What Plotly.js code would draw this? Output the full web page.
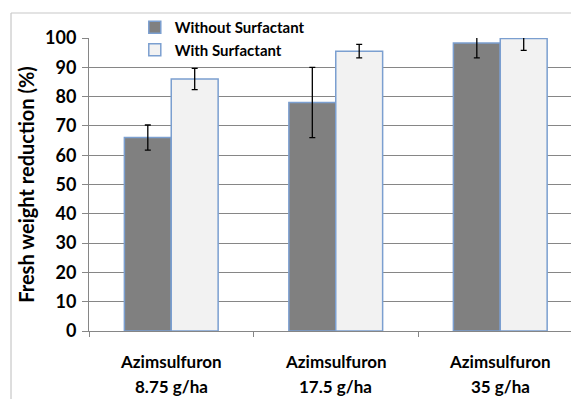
<!DOCTYPE html>
<html>
<head>
<meta charset="utf-8">
<script src="https://cdn.plot.ly/plotly-3.0.1.min.js"></script>
<style>html,body{margin:0;padding:0;background:#fff;}#chart{width:571px;height:399px;}</style>
</head>
<body>
<div id="chart"></div>
<script>
var herbicide = ['Azimsulfuron', 'Azimsulfuron', 'Azimsulfuron'];
var doses = ['8.75 g/ha', '17.5 g/ha', '35 g/ha'];
var seriesNames = ['Without Surfactant', 'With Surfactant'];
var withoutSurfactant = [66, 78, 98.3];
var withSurfactant = [86, 95.5, 99.8];
var errWithout = [4.3, 12, 5.1];
var errWith = [3.6, 2.3, 4.0];

var categories = herbicide.map(function (h, i) { return h + ' ' + doses[i]; });
var fontFam = 'Lato, "Open Sans", sans-serif';

var traces = [
  {
    type: 'bar', name: seriesNames[0], x: categories, y: withoutSurfactant,
    marker: {color: '#808080', line: {color: '#7b9fd0', width: 1.5}},
    error_y: {type: 'data', array: errWithout, visible: true, color: '#000', thickness: 1.3, width: 3}
  },
  {
    type: 'bar', name: seriesNames[1], x: categories, y: withSurfactant,
    marker: {color: '#f2f2f2', line: {color: '#7b9fd0', width: 1.5}},
    error_y: {type: 'data', array: errWith, visible: true, color: '#000', thickness: 1.3, width: 3}
  }
];

var annotations = [];
categories.forEach(function (c, i) {
  annotations.push({x: c, xref: 'x', yref: 'paper', y: -0.105, yanchor: 'middle', text: herbicide[i], showarrow: false,
    font: {family: fontFam, size: 17, weight: 'bold', color: '#000'}});
  annotations.push({x: c, xref: 'x', yref: 'paper', y: -0.19, yanchor: 'middle', text: doses[i], showarrow: false,
    font: {family: fontFam, size: 17, weight: 'bold', color: '#000'}});
});

var layout = {
  width: 571, height: 399,
  margin: {l: 89, r: 0, t: 38, b: 68},
  paper_bgcolor: '#fff', plot_bgcolor: '#fff',
  barmode: 'group', bargap: 0.43, bargroupgap: 0,
  font: {family: fontFam, color: '#000', size: 16},
  showlegend: true,
  legend: {
    x: 0.095, y: 1.092, xanchor: 'left', yanchor: 'top',
    bgcolor: 'rgba(0,0,0,0)', font: {family: fontFam, size: 15, color: '#000', weight: 'bold'},
    tracegroupgap: 0, traceorder: 'normal'
  },
  xaxis: {
    type: 'category', range: [-0.5, 2.43],
    showline: true, linecolor: '#868686', linewidth: 1,
    ticks: 'outside', tickson: 'boundaries', ticklen: 5, tickcolor: '#868686',
    showgrid: false, zeroline: false, showticklabels: false
  },
  yaxis: {
    range: [0, 100], dtick: 10, tick0: 0,
    showline: true, linecolor: '#868686', linewidth: 1,
    ticks: 'outside', ticklen: 6, tickcolor: '#868686',
    showgrid: true, gridcolor: '#868686', gridwidth: 1,
    zeroline: false,
    tickfont: {family: fontFam, size: 18, weight: 'bold'},
    ticklabelstandoff: 2,
    title: {text: 'Fresh weight reduction (%)', font: {family: fontFam, size: 20, weight: 'bold'}, standoff: 5}
  },
  annotations: annotations,
  shapes: [
    {type: 'line', xref: 'paper', yref: 'paper', x0: -0.1618, x1: -0.1618, y0: 1.0853, y1: -0.3, line: {color: '#c8c8c8', width: 1.2}},
    {type: 'line', xref: 'paper', yref: 'paper', x0: -0.1618, x1: 1.05, y0: 1.0853, y1: 1.0853, line: {color: '#c8c8c8', width: 1.2}}
  ]
};

Plotly.newPlot('chart', traces, layout, {displayModeBar: false, staticPlot: true});
</script>
</body>
</html>
